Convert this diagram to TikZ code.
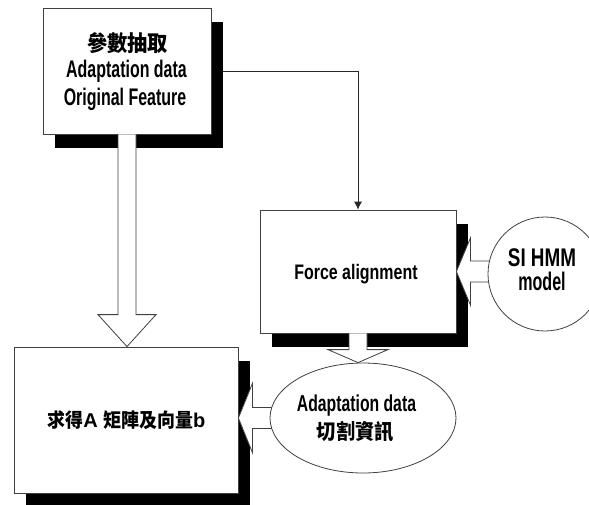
\documentclass[tikz,border=0pt]{standalone}
\usepackage{fontspec}
\setmainfont{Liberation Sans}
% condensed cuts of the label font, one per text block
\newfontfamily\fntA{Liberation Sans}[FakeStretch=0.665]
\newfontfamily\fntB{Liberation Sans}[FakeStretch=0.76]
\newfontfamily\fntC{Liberation Sans}[FakeStretch=0.74]
\newfontfamily\fntD{Liberation Sans}[FakeStretch=0.63]
\newfontfamily\fntE{Liberation Sans}[FakeStretch=0.685]
\newfontfamily\cjk{Noto Sans CJK TC}[FakeStretch=0.92]
\usetikzlibrary{shadows,calc,arrows.meta,shapes.geometric}
\pgfdeclarelayer{background}
\pgfdeclarelayer{front}
\pgfsetlayers{background,main,front}

\tikzset{
  edge/.style={draw=black!75, line width=0.8pt},
  box/.style={edge, fill=white, rectangle, inner sep=0pt,
    drop shadow={shadow xshift=12pt, shadow yshift=-14pt, fill=black, opacity=1}},
  roundbox/.style={edge, fill=white, inner sep=0pt},
  txt/.style={anchor=base, inner sep=0pt},
  blockarrow/.style={edge, fill=white, line join=miter},
  link/.style={draw=black!85, line width=0.8pt, -{Latex[length=8pt,width=8pt]}},
}

\begin{document}
\begin{tikzpicture}[x=1pt,y=-1pt]
\useasboundingbox (0,0) rectangle (589,504);

% process boxes with hard drop shadows
\node[box, minimum width=168pt, minimum height=126pt] (b1) at (127,71) {};
\node[box, minimum width=196pt, minimum height=123pt] (f) at (358,271.5) {};
\node[box, minimum width=224pt, minimum height=146pt] (b2) at (126,420) {};

% box labels
\node[txt, font=\cjk\bfseries\fontsize{22}{22}\selectfont] (b1a) at ($(b1.north)+(0.5,44)$) {參數抽取};
\node[txt, font=\fntA\bfseries\fontsize{24}{24}\selectfont] (b1b) at ($(b1.north)+(-0.5,70)$) {Adaptation data};
\node[txt, font=\fntA\bfseries\fontsize{24}{24}\selectfont] (b1c) at ($(b1.north)+(-2,98)$) {Original Feature};
\node[txt, font=\fntB\bfseries\fontsize{21}{21}\selectfont] (fa) at ($(f.north)+(-2,70)$) {Force alignment};
\node[txt, font=\bfseries\fontsize{20}{20}\selectfont] (b2a) at ($(b2.center)+(0.5,7.5)$)
  {{\cjk\fontsize{19.5}{20}\selectfont 求得}A {\cjk\fontsize{19.5}{20}\selectfont 矩陣及向量}b};

% data sources, drawn above the tails of the block arrows
\begin{pgfonlayer}{front}
\node[roundbox, ellipse, minimum width=186pt, minimum height=110pt] (e) at (363,418) {};
\node[roundbox, circle, minimum size=114pt] (c) at (545,274) {};
\node[txt, font=\fntE\bfseries\fontsize{23}{23}\selectfont] (ea) at ($(e.center)+(-6.5,-6.3)$) {Adaptation data};
\node[txt, font=\cjk\bfseries\fontsize{21}{21}\selectfont] (eb) at ($(e.center)+(-7.5,21.5)$) {切割資訊};
\node[txt, font=\fntC\bfseries\fontsize{25.5}{25.5}\selectfont] (ca) at ($(c.center)+(-3,-8)$) {SI HMM};
\node[txt, font=\fntD\bfseries\fontsize{25.5}{25.5}\selectfont] (cb) at ($(c.center)+(-3,16)$) {model};
\end{pgfonlayer}

% thin connector, hidden behind the shadow where it leaves the box
\begin{pgfonlayer}{background}
\draw[link] (b1.east) -| (f.north);
\end{pgfonlayer}

% block arrows
\coordinate (t1) at (b1.south |- b2.north);
\draw[blockarrow] ($(b1.south)+(-9,0)$) -- ($(t1)+(-9,-32)$) -- ($(t1)+(-29,-32)$)
  -- (t1) -- ($(t1)+(29,-32)$) -- ($(t1)+(9,-32)$) -- ($(b1.south)+(9,0)$);

\coordinate (t2) at (f.south |- e.north);
\draw[blockarrow] ($(f.south)+(-9,0)$) -- ($(t2)+(-9,-13)$) -- ($(t2)+(-30,-13)$)
  -- (t2) -- ($(t2)+(30,-13)$) -- ($(t2)+(9,-13)$) -- ($(f.south)+(9,0)$);

\coordinate (t3) at (f.east);
\draw[blockarrow] ($(c.west |- t3)+(6,-10.5)$) -- ($(t3)+(14,-10.5)$) -- ($(t3)+(14,-33.5)$)
  -- (t3) -- ($(t3)+(14,33.5)$) -- ($(t3)+(14,10.5)$) -- ($(c.west |- t3)+(6,10.5)$);

\coordinate (t4) at (b2.east |- e.west);
\draw[blockarrow] ($(e.west)+(6,-10.5)$) -- ($(t4)+(14,-10.5)$) -- ($(t4)+(14,-34.5)$)
  -- (t4) -- ($(t4)+(14,34.5)$) -- ($(t4)+(14,10.5)$) -- ($(e.west)+(6,10.5)$);
\end{tikzpicture}
\end{document}
